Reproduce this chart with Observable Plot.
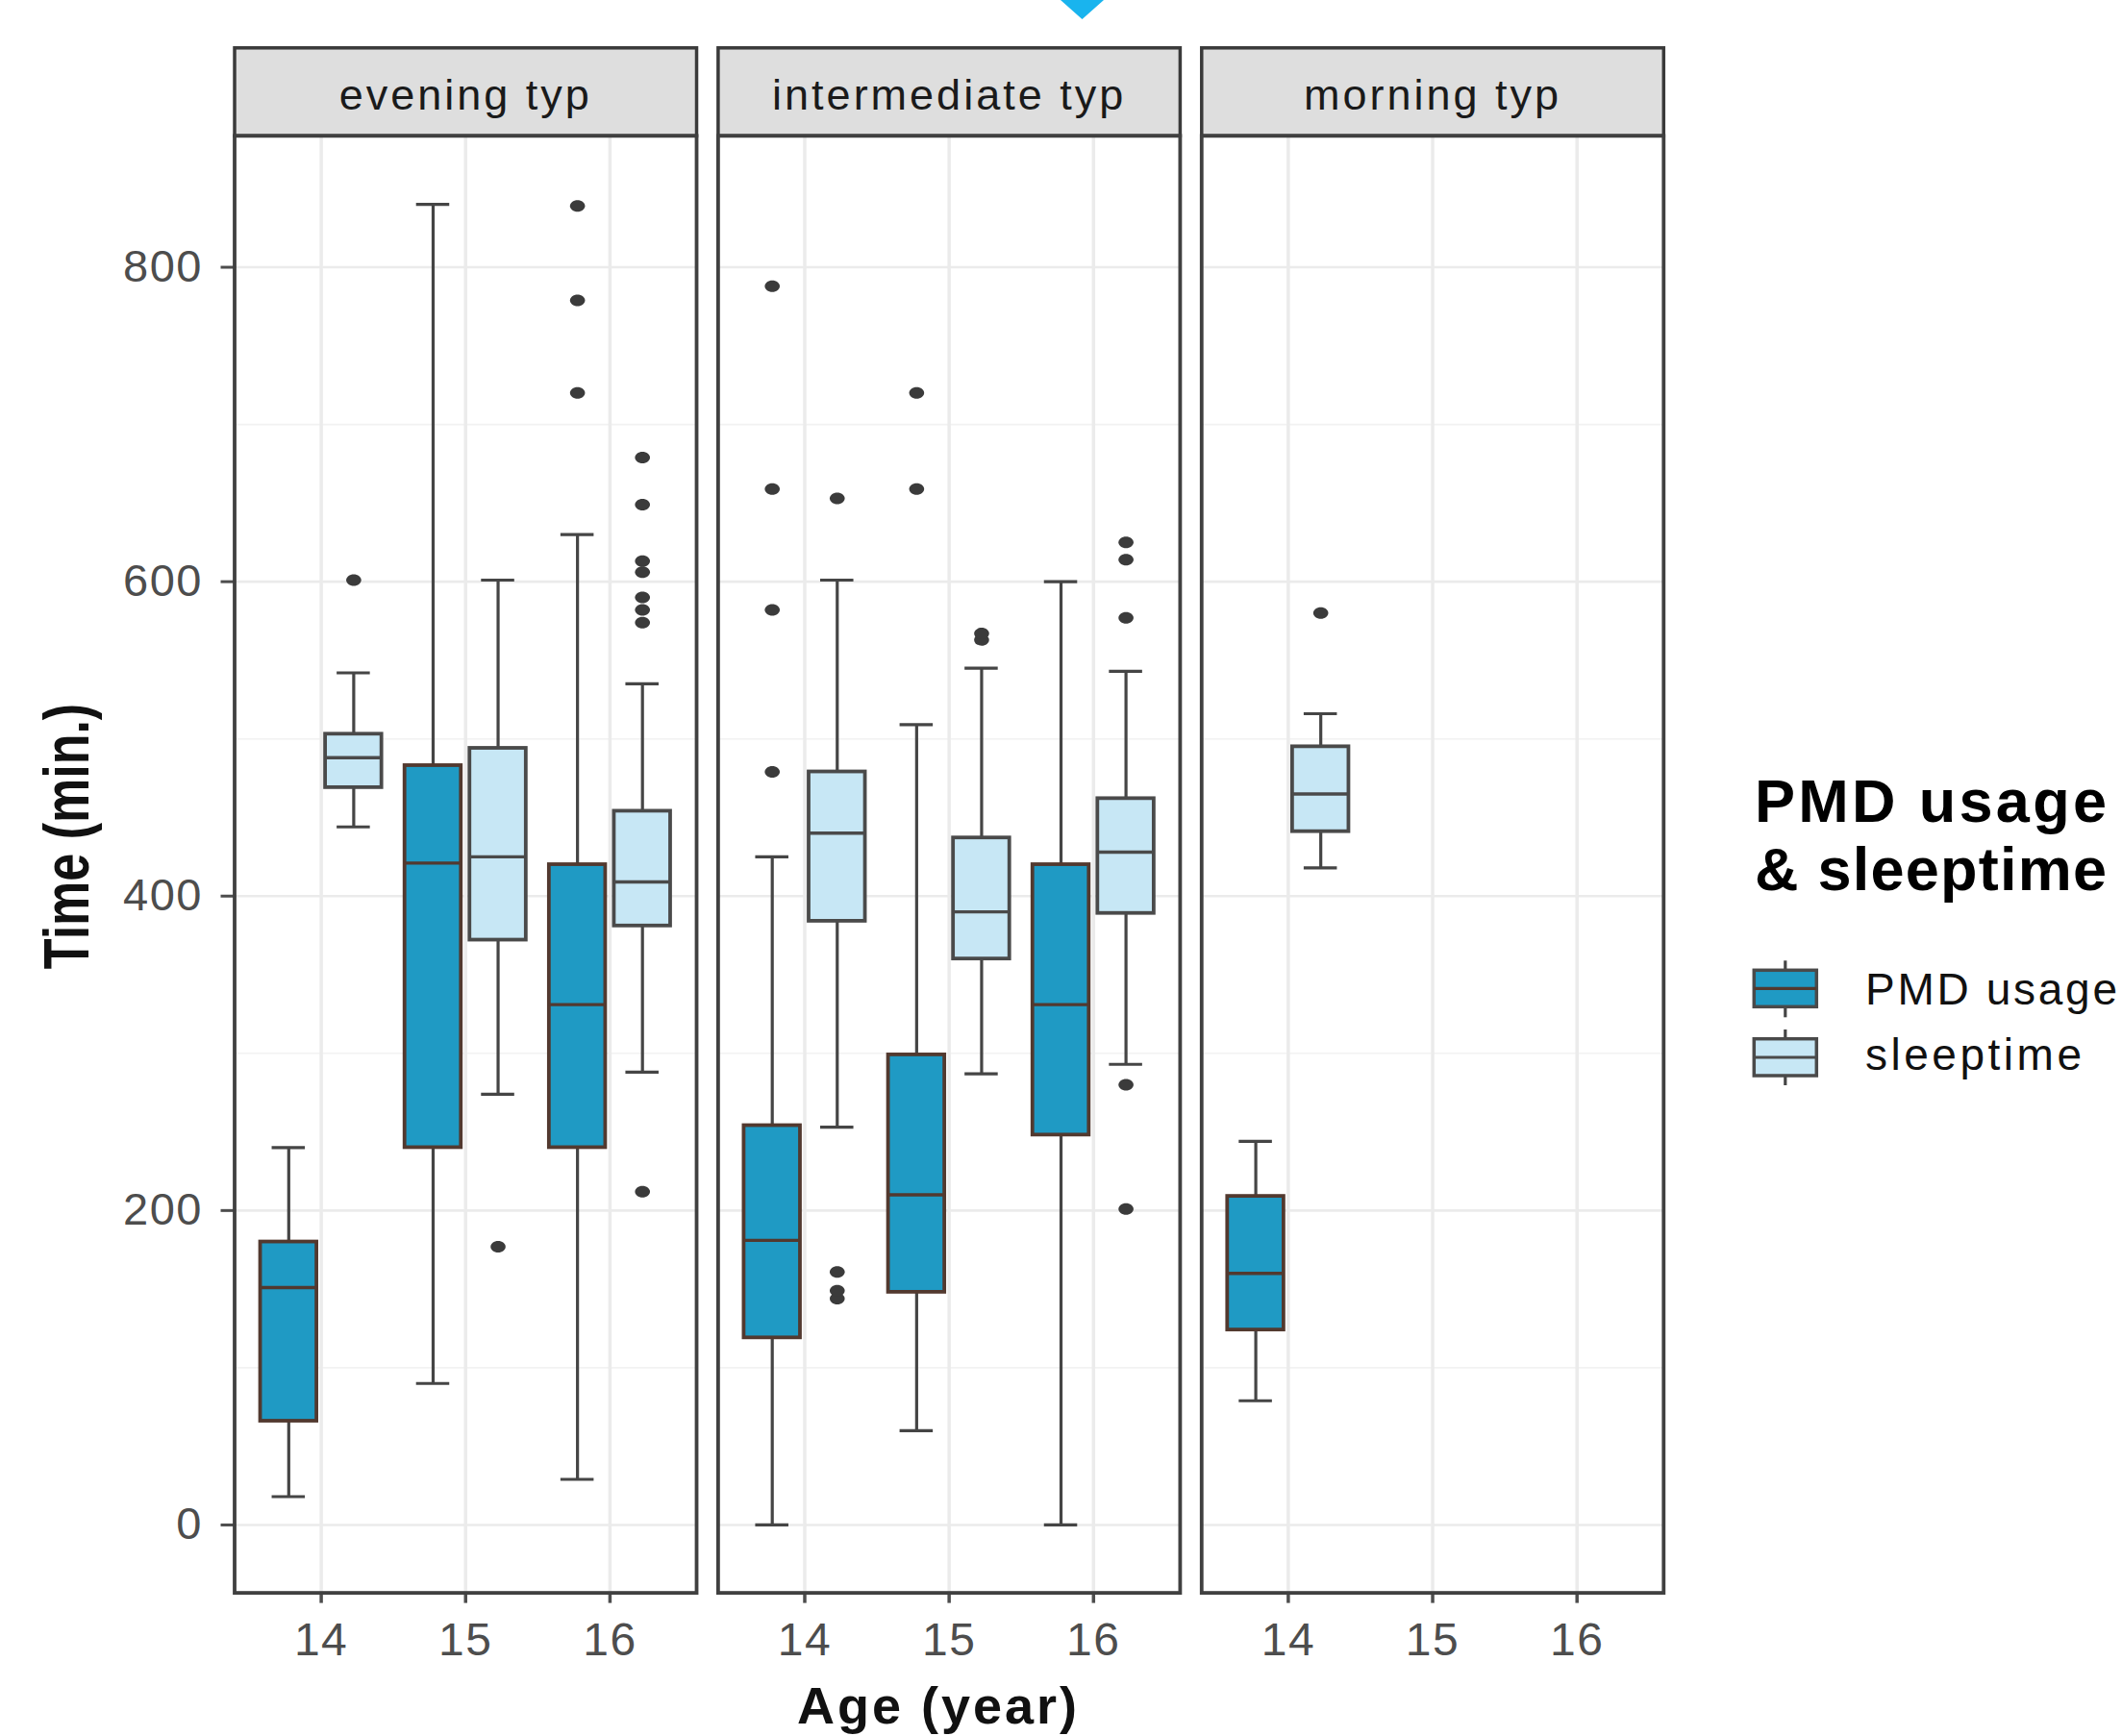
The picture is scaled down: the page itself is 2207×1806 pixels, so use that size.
<!DOCTYPE html>
<html>
<head>
<meta charset="utf-8">
<script src="https://cdn.jsdelivr.net/npm/d3@7"></script>
<script src="https://cdn.jsdelivr.net/npm/@observablehq/plot@0.6"></script>
<style>
  html, body { margin: 0; padding: 0; background: #fff; overflow: hidden; }
  #wrap { position: relative; width: 2207px; height: 1806px; overflow: hidden; }
  #overlay { position: absolute; left: 0; top: 0; pointer-events: none; }
</style>
</head>
<body>
<div id="wrap"></div>
<script>
// ---------- data ----------
const chronotypes = ["evening typ", "intermediate typ", "morning typ"];
const ages = [14, 15, 16];
const measures = ["PMD usage", "sleeptime"];
const yTicks = [0, 200, 400, 600, 800];
const yMinorTicks = [100, 300, 500, 700];

// one entry per box
const boxChrono  = ["evening typ","evening typ","evening typ","evening typ","evening typ","evening typ",
                    "intermediate typ","intermediate typ","intermediate typ","intermediate typ","intermediate typ","intermediate typ",
                    "morning typ","morning typ"];
const boxAge     = [14,14,15,15,16,16, 14,14,15,15,16,16, 14,14];
const boxMeasure = ["PMD usage","sleeptime","PMD usage","sleeptime","PMD usage","sleeptime",
                    "PMD usage","sleeptime","PMD usage","sleeptime","PMD usage","sleeptime",
                    "PMD usage","sleeptime"];
const whiskerLow  = [18, 444,  90, 274,  29, 288,   0, 253,  60, 287,   0, 293,  79, 418];
const q1          = [66, 469, 240, 372, 240, 381, 119, 384, 148, 360, 248, 389, 124, 441];
const medians     = [151, 488, 421, 425, 331, 409, 181, 440, 210, 390, 331, 428, 160, 465];
const q3          = [180, 503, 483, 494, 420, 454, 254, 479, 299, 437, 420, 462, 209, 495];
const whiskerHigh = [240, 542, 840, 601, 630, 535, 425, 601, 509, 545, 600, 543, 244, 516];

// outliers
const outChrono = [
  "evening typ",
  "evening typ",
  "evening typ","evening typ","evening typ",
  "evening typ","evening typ","evening typ","evening typ","evening typ","evening typ","evening typ","evening typ",
  "intermediate typ","intermediate typ","intermediate typ","intermediate typ",
  "intermediate typ","intermediate typ","intermediate typ","intermediate typ",
  "intermediate typ","intermediate typ",
  "intermediate typ","intermediate typ",
  "intermediate typ","intermediate typ","intermediate typ","intermediate typ","intermediate typ",
  "morning typ"];
const outAge = [14, 15, 16,16,16, 16,16,16,16,16,16,16,16,
                14,14,14,14, 14,14,14,14, 15,15, 15,15, 16,16,16,16,16, 14];
const outMeasure = ["sleeptime","sleeptime","PMD usage","PMD usage","PMD usage",
  "sleeptime","sleeptime","sleeptime","sleeptime","sleeptime","sleeptime","sleeptime","sleeptime",
  "PMD usage","PMD usage","PMD usage","PMD usage",
  "sleeptime","sleeptime","sleeptime","sleeptime",
  "PMD usage","PMD usage",
  "sleeptime","sleeptime",
  "sleeptime","sleeptime","sleeptime","sleeptime","sleeptime",
  "sleeptime"];
const outValue = [601, 177, 720, 779, 839,
  212, 574, 582, 590, 606, 613, 649, 679,
  479, 582, 659, 788,
  144, 149, 161, 653,
  659, 720,
  563, 567,
  201, 280, 577, 614, 625,
  580];

// ---------- styling ----------
const fillColor   = {"PMD usage": "#1f9ac4", "sleeptime": "#c7e7f5"};
const strokeColor = {"PMD usage": "#52392f", "sleeptime": "#4a4a4a"};
const lineColor = "#454545";
const dodge = 0.225, halfBox = 0.195, halfCap = 0.115;

const rows = boxChrono.map((c, i) => {
  const xc = boxAge[i] + (boxMeasure[i] === "PMD usage" ? -dodge : dodge);
  return {chrono: c, age: boxAge[i], measure: boxMeasure[i],
          low: whiskerLow[i], q1: q1[i], med: medians[i], q3: q3[i], high: whiskerHigh[i],
          xc, xl: xc - halfBox, xr: xc + halfBox, cl: xc - halfCap, cr: xc + halfCap};
});
const outliers = outValue.map((v, i) => ({
  chrono: outChrono[i], measure: outMeasure[i], value: v,
  xc: outAge[i] + (outMeasure[i] === "PMD usage" ? -dodge : dodge)
}));

const ellipseSymbol = {
  draw(ctx, size) {
    const r = Math.sqrt(size / Math.PI), rx = r * 1.3, ry = r, k = 0.5523;
    ctx.moveTo(rx, 0);
    ctx.bezierCurveTo(rx, ry * k, rx * k, ry, 0, ry);
    ctx.bezierCurveTo(-rx * k, ry, -rx, ry * k, -rx, 0);
    ctx.bezierCurveTo(-rx, -ry * k, -rx * k, -ry, 0, -ry);
    ctx.bezierCurveTo(rx * k, -ry, rx, -ry * k, rx, 0);
    ctx.closePath();
  }
};

const W = 2207, H = 1806;
const mTop = 140.8, mBottom = H - 1656.6, mLeft = 243.5, mRight = W - 1729.8;
const plotH = H - mTop - mBottom;

const byMeasure = m => rows.filter(d => d.measure === m);

const marks = [
  Plot.gridY(yMinorTicks, {stroke: "#f2f2f2", strokeOpacity: 1, strokeWidth: 1.6}),
  Plot.gridY(yTicks, {stroke: "#ebebeb", strokeOpacity: 1, strokeWidth: 2.6}),
  Plot.gridX(ages, {stroke: "#ebebeb", strokeOpacity: 1, strokeWidth: 3.5}),
  // strip background
  Plot.frame({fill: "#dedede", stroke: "#3a3a3a", strokeWidth: 3.5, insetTop: -91.5, insetBottom: plotH}),
  Plot.text(chronotypes, {fx: d => d, text: d => d, frameAnchor: "top", lineAnchor: "top", dy: -59.5,
                          fontSize: 45, fill: "#1a1a1a"}),
  // whiskers
  Plot.ruleX(rows, {fx: "chrono", x: "xc", y1: "q3", y2: "high", stroke: lineColor, strokeWidth: 3.2}),
  Plot.ruleX(rows, {fx: "chrono", x: "xc", y1: "low", y2: "q1", stroke: lineColor, strokeWidth: 3.2}),
  Plot.ruleY(rows, {fx: "chrono", y: "high", x1: "cl", x2: "cr", stroke: lineColor, strokeWidth: 3.2}),
  Plot.ruleY(rows, {fx: "chrono", y: "low", x1: "cl", x2: "cr", stroke: lineColor, strokeWidth: 3.2}),
];
for (const m of measures) {
  marks.push(Plot.rect(byMeasure(m), {fx: "chrono", x1: "xl", x2: "xr", y1: "q1", y2: "q3",
    fill: fillColor[m], stroke: strokeColor[m], strokeWidth: 3.8}));
  marks.push(Plot.ruleY(byMeasure(m), {fx: "chrono", y: "med", x1: "xl", x2: "xr",
    stroke: strokeColor[m], strokeWidth: 3.4}));
}
marks.push(
  Plot.dot(outliers, {fx: "chrono", x: "xc", y: "value", r: 6, symbol: ellipseSymbol,
                      fill: "#3b3b3b", stroke: "none"}),
  Plot.axisY({ticks: yTicks, tickSize: 14, tickPadding: 19, fontSize: 47, label: null,
              color: "#4d4d4d", strokeWidth: 3, tickFormat: d => String(d)}),
  Plot.axisX({ticks: ages, tickSize: 11, tickPadding: 20, fontSize: 48, label: null,
              color: "#4d4d4d", strokeWidth: 3.5, tickFormat: d => String(d)}),
  Plot.frame({stroke: "#404040", strokeWidth: 3.8})
);

const chart = Plot.plot({
  width: W, height: H,
  marginTop: mTop, marginBottom: mBottom, marginLeft: mLeft, marginRight: mRight,
  fx: {domain: chronotypes, paddingInner: 0.0445, paddingOuter: 0, axis: null, round: false},
  x: {domain: [13.4, 16.6]},
  y: {domain: [-43.2, 883.6]},
  style: {fontFamily: "'Liberation Sans', Arial, sans-serif", background: "#fff", overflow: "visible"},
  marks
});
document.getElementById("wrap").appendChild(chart);
d3.select(chart).selectAll("g[aria-label='text'] text").attr("letter-spacing", 3);
d3.select(chart).selectAll("g[aria-label='x-axis tick label'] text, g[aria-label='y-axis tick label'] text").attr("letter-spacing", 1.5);

// ---------- overlay: axis titles, legend ----------
const ov = d3.select("#wrap").append("svg").attr("id", "overlay")
  .attr("width", W).attr("height", H)
  .style("font-family", "'Liberation Sans', Arial, sans-serif");

// small marker at the top edge of the reference image
ov.append("path").attr("d", "M1103,0 L1148,0 L1125.5,20 Z").attr("fill", "#19b4ee");

ov.append("text").text("Age (year)")
  .attr("x", 976).attr("y", 1793).attr("text-anchor", "middle")
  .attr("font-size", 54).attr("font-weight", "bold").attr("letter-spacing", 3).attr("fill", "#111");

ov.append("text").text("Time (min.)")
  .attr("transform", "translate(91.5,870) rotate(-90) scale(1,1.27)")
  .attr("text-anchor", "middle")
  .attr("font-size", 52).attr("font-weight", "bold").attr("fill", "#111");

const legendTitle = ["PMD usage", "& sleeptime"];
legendTitle.forEach((t, i) => ov.append("text").text(t)
  .attr("x", 1825).attr("y", 855 + i * 70.7)
  .attr("textLength", 366).attr("lengthAdjust", "spacing")
  .attr("font-size", 63).attr("font-weight", "bold").attr("fill", "#000"));

const keys = [
  {m: "PMD usage", top: 1009.3, bottom: 1047.3, wTop: 999.3, wBottom: 1058.3, med: 1028.3, base: 1045, len: 262},
  {m: "sleeptime", top: 1080.7, bottom: 1119, wTop: 1071, wBottom: 1129, med: 1100, base: 1113.3, len: 225}
];
const kx1 = 1824.3, kx2 = 1889.3, kc = (kx1 + kx2) / 2;
keys.forEach(k => {
  ov.append("line").attr("x1", kc).attr("x2", kc).attr("y1", k.wTop).attr("y2", k.wBottom)
    .attr("stroke", lineColor).attr("stroke-width", 3.2);
  ov.append("rect").attr("x", kx1).attr("y", k.top).attr("width", kx2 - kx1).attr("height", k.bottom - k.top)
    .attr("fill", fillColor[k.m]).attr("stroke", "#4a4a4a").attr("stroke-width", 3.5);
  ov.append("line").attr("x1", kx1).attr("x2", kx2).attr("y1", k.med).attr("y2", k.med)
    .attr("stroke", strokeColor[k.m]).attr("stroke-width", 3.2);
  ov.append("text").text(k.m).attr("x", 1940).attr("y", k.base)
    .attr("textLength", k.len).attr("lengthAdjust", "spacing")
    .attr("font-size", 46).attr("fill", "#111");
});
</script>
</body>
</html>
